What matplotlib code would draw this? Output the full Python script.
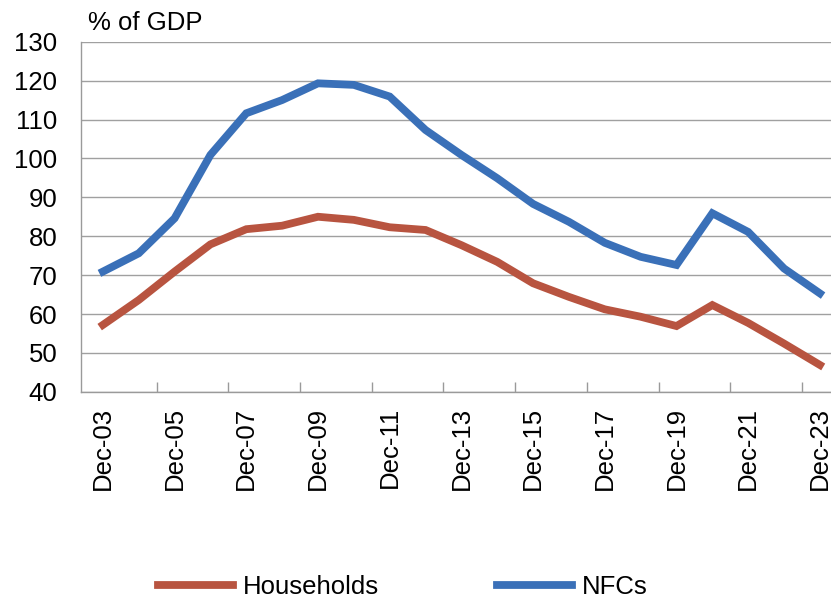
import matplotlib
matplotlib.use("Agg")
import matplotlib.pyplot as plt
import numpy as np

plt.rcParams['font.family'] = ['Liberation Sans', 'DejaVu Sans']

years = ["Dec-03", "Dec-04", "Dec-05", "Dec-06", "Dec-07", "Dec-08", "Dec-09", "Dec-10",
         "Dec-11", "Dec-12", "Dec-13", "Dec-14", "Dec-15", "Dec-16", "Dec-17", "Dec-18",
         "Dec-19", "Dec-20", "Dec-21", "Dec-22", "Dec-23"]
households = [57.2, 63.6, 70.9, 77.9, 81.8, 82.7, 85.0, 84.2, 82.3, 81.6, 77.7, 73.4,
              67.9, 64.4, 61.2, 59.3, 56.9, 62.3, 57.7, 52.4, 46.9]
nfcs = [70.9, 75.6, 84.6, 100.9, 111.6, 115.0, 119.3, 118.9, 115.9, 107.3, 100.9, 94.9,
        88.3, 83.7, 78.3, 74.7, 72.6, 85.9, 81.1, 71.7, 65.3]
yticks = [40, 50, 60, 70, 80, 90, 100, 110, 120, 130]

fig = plt.figure(figsize=(8.31, 6.0), dpi=100)
ax = fig.add_axes([0.0975, 0.347, 0.9025, 0.5835])

x = np.arange(len(years))
ax.plot(x, households, color='#b85440', lw=5.6, solid_joinstyle='miter', label='Households', zorder=3)
ax.plot(x, nfcs, color='#3a70b8', lw=5.6, solid_joinstyle='miter', label='NFCs', zorder=3)

ax.set_ylim(40, 130)
ax.set_yticks(yticks)
ax.set_xlim(-0.61, 20.31)
ax.set_xticks(x[::2])
ax.set_xticklabels(years[::2], rotation=90, fontsize=18.5)
ax.set_xticks(np.arange(1.5, 20, 2), minor=True)
ax.tick_params(axis='x', which='major', length=0, pad=11)
ax.tick_params(axis='x', which='minor', direction='in', length=7, width=1, color='#9a9a9a')
ax.tick_params(axis='y', length=0, labelsize=18.5, pad=17)

ax.grid(axis='y', color='#a0a0a0', lw=1.0, zorder=0)
ax.set_axisbelow(True)
for s in ['top', 'right']:
    ax.spines[s].set_visible(False)
for s in ['left', 'bottom']:
    ax.spines[s].set_color('#9a9a9a')
    ax.spines[s].set_linewidth(1.0)

fig.text(0.106, 0.962, '% of GDP', fontsize=18.5, ha='left', va='center')

fig.legend(loc='center', bbox_to_anchor=(0.485, 0.022), ncol=2, frameon=False,
           fontsize=18.5, handlelength=2.9, handletextpad=0.4, columnspacing=4.6)

fig.savefig('out.png', dpi=100)
